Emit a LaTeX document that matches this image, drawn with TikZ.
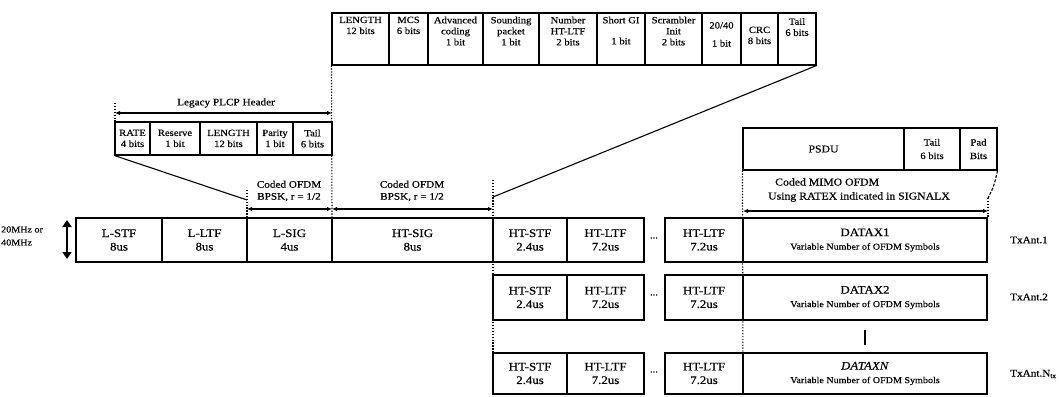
\documentclass[tikz,border=0pt]{standalone}
\usepackage{fontspec}
\setmainfont{Liberation Serif}[FakeStretch=1.12,FakeBold=0.4]
\usetikzlibrary{arrows.meta}
\newcommand{\fb}[6]{\node[fld, minimum width={#3-#2}, minimum height={#5-#4}] (#1) at ({(#2+#3)/2},{(#4+#5)/2}) {#6};}
\newcommand{\ft}[4]{\node[ftxt, anchor=north] (#1) at (#2,#3) {#4};}
\begin{document}
\begin{tikzpicture}[x=1pt,y=-1pt,
  fld/.style={draw, line width=1.1pt, inner sep=0pt, align=center, font=\fontsize{11.5}{13.5}\selectfont},
  ftxt/.style={inner sep=0pt, align=center, font=\fontsize{9.5}{11}\selectfont},
  lbl/.style={inner sep=0pt, align=center, font=\fontsize{10}{12}\selectfont},
  dotv/.style={line width=1.1pt, dash pattern=on 1.3pt off 1.6pt},
  dar/.style={{Latex[length=5pt,width=4.5pt]}-{Latex[length=5pt,width=4.5pt]}, line width=1.4pt},
  slant/.style={line width=1.1pt}
  ]
\useasboundingbox (0,0) rectangle (1059,396);

% ---------- HT-SIG field row ----------
\fb{f1}{332}{389}{13}{65}{}
\fb{f2}{389}{428}{13}{65}{}
\fb{f3}{428}{483}{13}{65}{}
\fb{f4}{483}{539}{13}{65}{}
\fb{f5}{539}{597}{13}{65}{}
\fb{f6}{597}{645}{13}{65}{}
\fb{f7}{645}{702}{13}{65}{}
\fb{f8}{702}{741}{13}{65}{}
\fb{f9}{741}{778}{13}{65}{}
\fb{f10}{778}{816}{13}{65}{}
\ft{t1}{360.5}{16.5}{LENGTH\\12 bits}
\ft{t2}{408.5}{16.5}{MCS\\6 bits}
\ft{t3}{455.5}{16.5}{Advanced\\coding\\1 bit}
\ft{t4}{511}{16.5}{Sounding\\packet\\1 bit}
\ft{t5}{568}{16.5}{Number\\HT-LTF\\2 bits}
\ft{t6}{621}{16.5}{Short GI\\[10pt]1 bit}
\ft{t7}{673.5}{16.5}{Scrambler\\Init\\2 bits}
\ft{t8}{721.5}{22}{20/40\\[7pt]1 bit}
\ft{t9}{759.5}{26.5}{CRC\\8 bits}
\ft{t10}{797}{18}{Tail\\6 bits}

% ---------- Legacy PLCP header ----------
\coordinate (lhL) at (115,113);
\coordinate (lhR) at (332,113);
\coordinate (lhLtop) at (115,103);
\draw[dotv] (lhLtop) -- (115,122);
\draw[dar] (lhL) -- (lhR);
\node[lbl] (lhlab) at (226,103) {Legacy PLCP Header};
\fb{g1}{115}{150}{122}{155}{}
\fb{g2}{150}{200}{122}{155}{}
\fb{g3}{200}{257}{122}{155}{}
\fb{g4}{257}{293}{122}{155}{}
\fb{g5}{293}{332}{122}{155}{}
\ft{u1}{132.5}{129.5}{RATE\\4 bits}
\ft{u2}{175}{129.5}{Reserve\\1 bit}
\ft{u3}{228.5}{129.5}{LENGTH\\12 bits}
\ft{u4}{275}{129.5}{Parity\\1 bit}
\ft{u5}{312.5}{129.5}{Tail\\6 bits}

% ---------- PSDU row ----------
\fb{p1}{743}{904}{128}{170}{\fontsize{10.5}{12}\selectfont PSDU}
\fb{p2}{904}{960}{128}{170}{\fontsize{9.5}{11}\selectfont Tail\\\fontsize{9.5}{11}\selectfont 6 bits}
\fb{p3}{960}{997}{128}{170}{\fontsize{9.5}{11}\selectfont Pad\\\fontsize{9.5}{11}\selectfont Bits}

% ---------- dotted guides ----------
\coordinate (ls) at (247,200);
\coordinate (hs) at (493,197);
\coordinate (dr) at (988,198);
\draw[dotv] (f1.south west) -- (332,218);
\draw[dotv] (247,190) -- (247,218);
\draw[dotv] (493,180) -- (493,394);
\draw[dotv] (p1.south west) -- (743,394);
\draw[dotv] (dr) -- (988,218);
\draw[line width=1.1pt, dash pattern=on 3pt off 1.5pt] (p3.south east) .. controls (994,186) .. (dr);

% slanted connectors
\draw[slant] (g1.south west) -- (ls);
\draw[slant] (f10.south east) -- (hs);

% ---------- coded labels and arrows ----------
\coordinate (a1) at (247,209);
\coordinate (a2) at (332,209);
\coordinate (a3) at (493,209);
\coordinate (a4) at (743,211);
\coordinate (a5) at (988,211);
\draw[dar] (a1) -- (a2);
\draw[dar] (a2) -- (a3);
\draw[dar] (a4) -- (a5);
\node[lbl] (c1) at (289,191) {Coded OFDM\\BPSK, r = 1/2};
\node[lbl] (c2) at (412,191) {Coded OFDM\\BPSK, r = 1/2};
\node[inner sep=0pt, align=left, anchor=west, font=\fontsize{10.5}{14}\selectfont] (c3) at (768,190) {\hspace{7pt}Coded MIMO OFDM\\Using RATEX indicated in SIGNALX};

% ---------- bandwidth ----------
\node[inner sep=0pt, align=left, anchor=west, font=\fontsize{9}{13}\selectfont] (bw) at (1,236) {20MHz or\\40MHz};
\coordinate (bwt) at (67,220);
\coordinate (bwb) at (67,259);
\draw[{Triangle[length=7pt,width=9pt]}-{Triangle[length=7pt,width=9pt]}, line width=2.2pt] (bwt) -- (bwb);

% ---------- row 1 ----------
\fb{lstf}{76}{162}{218}{262}{L-STF\\8us}
\fb{lltf}{162}{247}{218}{262}{L-LTF\\8us}
\fb{lsig}{247}{332}{218}{262}{L-SIG\\4us}
\fb{htsig}{332}{493}{218}{262}{HT-SIG\\8us}
\fb{s1}{493}{567}{218}{262}{HT-STF\\2.4us}
\fb{l1a}{567}{644}{218}{262}{HT-LTF\\7.2us}
\node[ftxt] (d1) at (654,238) {...};
\fb{l1b}{665}{743}{218}{262}{HT-LTF\\7.2us}
\fb{x1}{743}{987}{218}{262}{DATAX1\\{\fontsize{9}{11}\selectfont Variable Number of OFDM Symbols}}
\node[lbl, anchor=west] (ant1) at (1010,240) {TxAnt.1};

% ---------- row 2 ----------
\fb{s2}{493}{567}{275}{320}{HT-STF\\2.4us}
\fb{l2a}{567}{644}{275}{320}{HT-LTF\\7.2us}
\node[ftxt] (d2) at (654,295) {...};
\fb{l2b}{665}{743}{275}{320}{HT-LTF\\7.2us}
\fb{x2}{743}{987}{275}{320}{DATAX2\\{\fontsize{9}{11}\selectfont Variable Number of OFDM Symbols}}
\node[lbl, anchor=west] (ant2) at (1010,297) {TxAnt.2};

\coordinate (vt) at (865,330);
\coordinate (vb) at (865,345);
\draw[line width=2pt] (vt) -- (vb);

% ---------- row 3 ----------
\fb{s3}{493}{567}{353}{394}{HT-STF\\2.4us}
\fb{l3a}{567}{644}{353}{394}{HT-LTF\\7.2us}
\node[ftxt] (d3) at (654,372) {...};
\fb{l3b}{665}{743}{353}{394}{HT-LTF\\7.2us}
\fb{x3}{743}{987}{353}{394}{\textit{DATAXN}\\{\fontsize{9}{11}\selectfont Variable Number of OFDM Symbols}}
\node[lbl, anchor=west] (ant3) at (1010,374) {TxAnt.N$_{\mathrm{tx}}$};
\end{tikzpicture}
\end{document}
